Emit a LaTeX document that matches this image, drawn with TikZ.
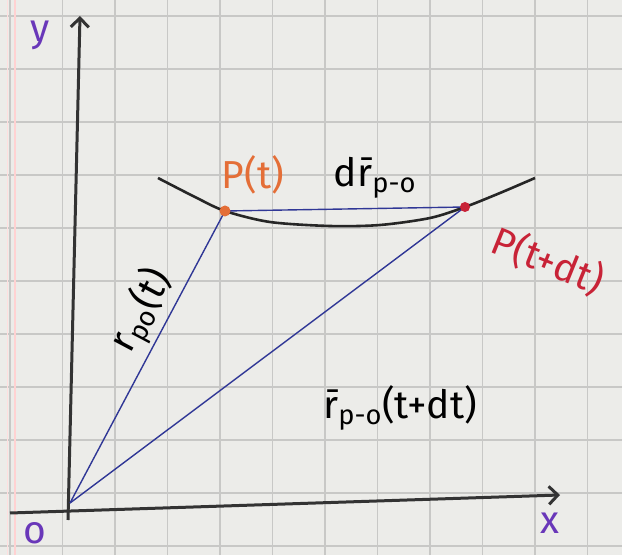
\documentclass[tikz,border=0pt]{standalone}
\usepackage{fontspec}
\setmainfont{Fira Sans}
\usetikzlibrary{arrows.meta}
\definecolor{paper}{RGB}{236,236,233}
\definecolor{gridc}{RGB}{200,200,198}
\definecolor{pen}{RGB}{48,55,150}
\definecolor{lila}{RGB}{105,55,185}
\definecolor{orng}{RGB}{228,110,55}
\definecolor{rojo}{RGB}{200,35,55}
\tikzset{
  lbl/.style={font=\fontsize{39}{44}\selectfont, inner sep=1pt},
  vec/.style={pen, line width=1.4pt},
  axis/.style={->, line width=3pt, black!80},
}
\begin{document}
\begin{tikzpicture}[>={Straight Barb[length=9pt,width=18pt]}, x=1pt, y=1pt]
    \useasboundingbox[fill=paper](-70,-52) rectangle (552,503);
    % graph paper
    \foreach \i in {-2,...,9} \draw[gridc, line width=1.2pt](45+52.5*\i,-52)--(45+52.5*\i,503);
    \foreach \j in {-1,...,9} \draw[gridc, line width=1.2pt](-70,434-53*\j)--(552,434-53*\j);
    \draw[pink!70, line width=1.5pt](-55,-52)--(-55,503);
    \draw[pink!50, line width=1pt](-62,-52)--(-62,503);
    % axes
    \coordinate (O) at (0,0);
    \draw[axis](-2,-17)--(10,487)coordinate(ytip);
    \draw[axis](-60,-10)--(490,8)coordinate(xtip);
    \node[lbl, lila] (ylab) at (-30,468) {y};
    \node[lbl, lila] (olab) at (-35,-30) {o};
    \node[lbl, lila] (xlab) at (480,-20) {x};
    % trajectory
    \coordinate (Pt) at (155,292);
    \coordinate (Pdt) at (395,296);
    \draw[line width=2.6pt, black!85, smooth]plot coordinates{(88,325) (125,306) (155,292) (200,281) (260,277) (310,278) (360,285) (395,296) (430,310) (465,325)};
    % vectors
    \draw[vec](O)--(Pt);
    \draw[vec](O)--(Pdt);
    \draw[vec](Pt)--(Pdt);
    \fill[orng](Pt) circle (5.5);
    \fill[rojo](Pdt) circle (5);
    % labels
    \node[lbl, orng] (ptlab) at (183,328) {P(t)};
    \node[lbl] (drlab) at (305,325) {d\=r\textsubscript{p-o}};
    \node[lbl, rojo, rotate=-22] (pdtlab) at (478,242) {P(t+dt)};
    \node[lbl, rotate=62] (rlab) at (72,192) {r\textsubscript{po}(t)};
    \node[lbl] (rdtlab) at (330,95) {\=r\textsubscript{p-o}(t+dt)};
\end{tikzpicture}
\end{document}
